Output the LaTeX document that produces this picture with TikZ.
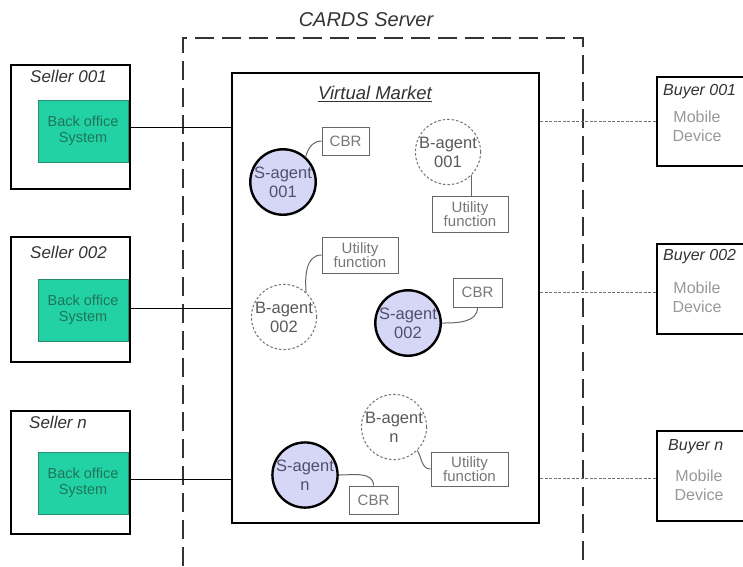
\documentclass[tikz,border=0pt]{standalone}
\usepackage{fontspec}
\setmainfont{Liberation Sans}
\usetikzlibrary{positioning}
\definecolor{boxgreen}{HTML}{22D1A4}
\definecolor{boxgreenedge}{HTML}{2A8A6C}
\definecolor{greentext}{HTML}{1E7558}
\definecolor{lav}{HTML}{D6D6F6}
\definecolor{agenttext}{HTML}{50506E}
\definecolor{graytext}{HTML}{777777}
\definecolor{lighttext}{HTML}{999999}
\definecolor{titletext}{HTML}{333333}
\tikzset{
  sellerbox/.style={draw=black,line width=2.4pt,minimum width=119pt,inner sep=0pt},
  greenbox/.style={draw=boxgreenedge,line width=1pt,fill=boxgreen,minimum width=90pt,minimum height=62pt,inner sep=0pt,align=center,text=greentext,font=\fontsize{14.5}{16}\selectfont},
  buyerbox/.style={draw=black,line width=2.4pt,minimum width=103pt,inner sep=0pt},
  sagent/.style={circle,draw=black,line width=2.4pt,fill=lav,minimum size=63pt,inner sep=0pt,align=center,text=agenttext,font=\fontsize{16.5}{19}\selectfont},
  bagent/.style={circle,draw=black!55,line width=1pt,dash pattern=on 2.5pt off 2pt,minimum size=62pt,inner sep=0pt,align=center,text=black!65,font=\fontsize{16.5}{19}\selectfont},
  smallbox/.style={draw=black!60,line width=1pt,inner sep=0pt,align=center,text=graytext,font=\fontsize{15}{14}\selectfont},
  link/.style={draw=black,line width=0.9pt},
  softlink/.style={draw=black!60,line width=1pt},
  dotlink/.style={draw=black!55,line width=1pt,dash pattern=on 3pt off 1.5pt},
  boxtitle/.style={font=\itshape\fontsize{17}{17}\selectfont,text=titletext,inner sep=0pt,anchor=west},
  devtext/.style={align=center,text=lighttext,font=\fontsize{16}{19}\selectfont,inner sep=0pt},
}
\begin{document}
\begin{tikzpicture}[x=1pt,y=-1pt]
\useasboundingbox (0,0) rectangle (743,566);
\clip (0,0) rectangle (743,566);
\fill[white] (0,0) rectangle (743,566);

% CARDS server (dashed, open at bottom)
\draw[line width=2.8pt,dash pattern=on 19pt off 8pt,black!80] (183,620) -- (183,38) -- (583,38) -- (583,620);
\node[font=\itshape\fontsize{20}{20}\selectfont,text=titletext,inner sep=0pt] (cards) at (366,20) {CARDS Server};

% Virtual market
\node[draw=black,line width=2pt,minimum width=307pt,minimum height=450pt,inner sep=0pt] (vm) at (385.5,298) {};
\node[font=\itshape\fontsize{18.5}{18.5}\selectfont,text=titletext,inner sep=0pt] (vmt) at (375,94) {\underline{Virtual Market}};

% Sellers
\node[sellerbox,minimum height=124pt] (sel1) at (70.5,127) {};
\node[boxtitle] (sel1t) at (30,76) {Seller 001};
\node[greenbox] (bo1) at (83,131) {Back office\\System};

\node[sellerbox,minimum height=125pt] (sel2) at (70.5,299.5) {};
\node[boxtitle] (sel2t) at (30,252) {Seller 002};
\node[greenbox] (bo2) at (83,310) {Back office\\System};

\node[sellerbox,minimum height=123pt] (seln) at (70.5,472.5) {};
\node[boxtitle] (selnt) at (29,422) {Seller \textit{n}};
\node[greenbox] (bon) at (83,483) {Back office\\System};

% Buyers
\node[buyerbox,minimum height=89pt] (buy1) at (708.5,121.5) {};
\node[boxtitle,font=\itshape\fontsize{16}{16}\selectfont] (buy1t) at (663,92) {Buyer 001};
\node[devtext] (dev1) at (697,126.5) {Mobile\\Device};

\node[buyerbox,minimum height=90pt] (buy2) at (708.5,289) {};
\node[boxtitle,font=\itshape\fontsize{16}{16}\selectfont] (buy2t) at (663,257) {Buyer 002};
\node[devtext] (dev2) at (697,297.5) {Mobile\\Device};

\node[buyerbox,minimum height=90pt] (buyn) at (708.5,476) {};
\node[boxtitle,font=\itshape\fontsize{16}{16}\selectfont] (buynt) at (668,447) {Buyer \textit{n}};
\node[devtext] (devn) at (699,485) {Mobile\\Device};

% Agents and tools
\node[sagent] (s1) at (283,182) {S-agent\\001};
\node[smallbox,minimum width=47pt,minimum height=28pt] (cbr1) at (345.5,141) {CBR};
\node[bagent] (b1) at (448,152) {B-agent\\001};
\node[smallbox,minimum width=76pt,minimum height=36pt] (u1) at (470,214) {Utility\\function};

\node[smallbox,minimum width=76pt,minimum height=36pt] (u2) at (360,255) {Utility\\function};
\node[bagent] (b2) at (284,317) {B-agent\\002};
\node[smallbox,minimum width=49pt,minimum height=29pt] (cbr2) at (477.5,292.5) {CBR};
\node[sagent] (s2) at (408,323) {S-agent\\002};

\node[bagent] (bn) at (394,427) {B-agent\\n};
\node[smallbox,minimum width=77pt,minimum height=34pt] (un) at (469.5,469) {Utility\\function};
\node[sagent] (sn) at (305,475) {S-agent\\n};
\node[smallbox,minimum width=49pt,minimum height=28pt] (cbrn) at (373.5,500) {CBR};

% Agent-to-tool connectors
\draw[softlink] (s1.48) to[out=75,in=180] (cbr1.west);
\draw[softlink] (b1.-45) -- (b1.-45 |- u1.north);
\draw[softlink] (b2.48) to[out=95,in=180] (u2.west);
\draw[softlink] (s2.east) to[out=0,in=-90] (cbr2.south);
\draw[softlink] (bn.-45) to[out=-60,in=180] (un.west);
\draw[softlink] (sn.east) to[out=0,in=90] (cbrn.north);

% Seller links
\draw[link] (bo1.east |- 0,127) -- (vm.west |- 0,127);
\draw[link] (bo2.east |- 0,308) -- (vm.west |- 0,308);
\draw[link] (bon.east |- 0,479) -- (vm.west |- 0,479);

% Buyer links
\draw[dotlink] (vm.east |- buy1.west) -- (buy1.west);
\draw[dotlink] (vm.east |- 0,292) -- (buy2.west |- 0,292);
\draw[dotlink] (vm.east |- 0,478) -- (buyn.west |- 0,478);
\end{tikzpicture}
\end{document}
